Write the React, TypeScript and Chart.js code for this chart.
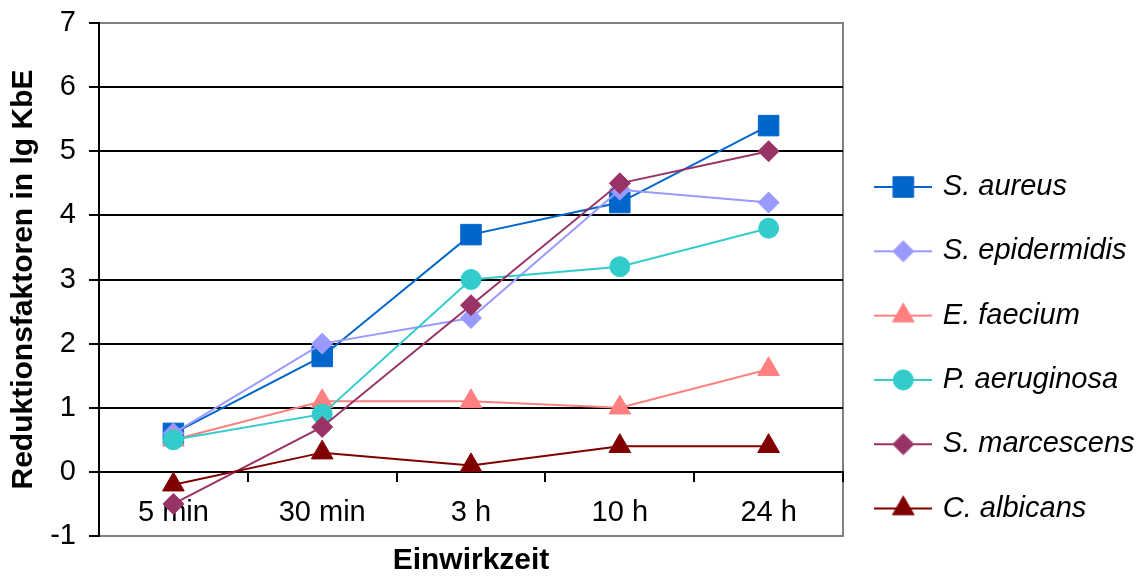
import React, { useEffect, useRef } from 'react';
import { Chart, registerables } from 'chart.js';

Chart.register(...registerables);

// Exposure times (x categories)
const timePoints = ['5 min', '30 min', '3 h', '10 h', '24 h'];

// Reduction factors (lg CFU) per organism
const sAureus = [0.6, 1.8, 3.7, 4.2, 5.4];
const sEpidermidis = [0.6, 2.0, 2.4, 4.4, 4.2];
const eFaecium = [0.5, 1.1, 1.1, 1.0, 1.6];
const pAeruginosa = [0.5, 0.9, 3.0, 3.2, 3.8];
const sMarcescens = [-0.5, 0.7, 2.6, 4.5, 5.0];
const cAlbicans = [-0.2, 0.3, 0.1, 0.4, 0.4];

const speciesNames = ['S. aureus', 'S. epidermidis', 'E. faecium', 'P. aeruginosa', 'S. marcescens', 'C. albicans'];
const speciesValues = [sAureus, sEpidermidis, eFaecium, pAeruginosa, sMarcescens, cAlbicans];

// Value axis range
const yMin = -1;
const yMax = 7;
const yStep = 1;

const yTitle = 'Reduktionsfaktoren in lg KbE';
const xTitle = 'Einwirkzeit';

// Series appearance
const seriesColors = ['#0066CC', '#9999FF', '#FF8080', '#33CCCC', '#993366', '#800000'];
const seriesMarkers = ['rect', 'rectRot', 'triangle', 'circle', 'rectRot', 'triangle'];
const markerRadius = [14.5, 10.5, 12.5, 10, 10.5, 12.5];

const FONT = "'Liberation Sans', Arial, Helvetica, sans-serif";
const FRAME_GREY = '#808080';
const PAD_LEFT = 5.6;
const Y_AXIS_WIDTH = 93.4;
const LEGEND_WIDTH = 300;

// Small line-plus-marker swatch used as the legend symbol
function makeSwatch(color: string, marker: string, r: number): HTMLCanvasElement {
  const c = document.createElement('canvas');
  c.width = 58;
  c.height = 30;
  const g = c.getContext('2d')!;
  const x = 29;
  const y = 15;
  g.strokeStyle = color;
  g.lineWidth = 2;
  g.beginPath();
  g.moveTo(0, y);
  g.lineTo(58, y);
  g.stroke();
  g.fillStyle = color;
  g.lineWidth = 1;
  g.beginPath();
  if (marker === 'rect') {
    const s = r * Math.SQRT1_2;
    g.rect(x - s, y - s, 2 * s, 2 * s);
  } else if (marker === 'rectRot') {
    g.moveTo(x - r, y);
    g.lineTo(x, y - r);
    g.lineTo(x + r, y);
    g.lineTo(x, y + r);
    g.closePath();
  } else if (marker === 'circle') {
    g.arc(x, y, r, 0, Math.PI * 2);
  } else {
    for (let k = 0; k < 3; k++) {
      const a = (k * 2 * Math.PI) / 3;
      const px = x + Math.sin(a) * r;
      const py = y - Math.cos(a) * r;
      if (k === 0) g.moveTo(px, py);
      else g.lineTo(px, py);
    }
    g.closePath();
  }
  g.fill();
  g.stroke();
  return c;
}

// Grey frame on the right side of the plot area
const plotFrame = {
  id: 'plotFrame',
  beforeDraw(chart: any) {
    const { ctx, chartArea } = chart;
    if (!chartArea) return;
    ctx.save();
    ctx.strokeStyle = FRAME_GREY;
    ctx.lineWidth = 2;
    ctx.beginPath();
    ctx.moveTo(chartArea.right, chartArea.top - 1);
    ctx.lineTo(chartArea.right, chartArea.bottom + 1);
    ctx.stroke();
    ctx.restore();
  },
};

export default function App() {
  const canvasRef = useRef<HTMLCanvasElement>(null);

  useEffect(() => {
    if (!canvasRef.current) return;
    Chart.defaults.font.family = FONT;

    const swatches = speciesNames.map((_, i) => makeSwatch(seriesColors[i], seriesMarkers[i], markerRadius[i]));

    const datasets = speciesNames.map((name, i) => ({
      label: name,
      data: speciesValues[i],
      borderColor: seriesColors[i],
      backgroundColor: seriesColors[i],
      borderWidth: 2,
      pointStyle: seriesMarkers[i],
      pointRadius: markerRadius[i],
      pointHoverRadius: markerRadius[i],
      pointBorderWidth: 1,
      pointBackgroundColor: seriesColors[i],
      pointBorderColor: seriesColors[i],
      tension: 0,
      fill: false,
      order: -i,
      clip: false as any,
    }));

    const chart = new Chart(canvasRef.current, {
      type: 'line',
      data: { labels: timePoints, datasets },
      plugins: [plotFrame],
      options: {
        responsive: false,
        animation: false,
        devicePixelRatio: 1,
        events: [],
        layout: { padding: { left: PAD_LEFT, right: 1147 - 843 - LEGEND_WIDTH, top: 23, bottom: 0 } },
        plugins: {
          tooltip: { enabled: false },
          legend: {
            position: 'right',
            align: 'center',
            maxWidth: LEGEND_WIDTH,
            title: { display: true, text: '', padding: { top: 61.7, bottom: 0 }, font: { size: 29 } },
            labels: {
              usePointStyle: true,
              pointStyleWidth: 50,
              padding: 35.3,
              color: '#000',
              font: { size: 29, style: 'italic', family: FONT },
              generateLabels: (c: any) =>
                c.data.datasets.map((ds: any, i: number) => ({
                  text: ds.label,
                  pointStyle: swatches[i],
                  fillStyle: seriesColors[i],
                  strokeStyle: seriesColors[i],
                  lineWidth: 0,
                  fontColor: '#000',
                  hidden: false,
                  datasetIndex: i,
                })),
            },
          },
          subtitle: {
            display: true,
            position: 'bottom',
            fullSize: false,
            text: xTitle,
            color: '#000',
            font: { size: 30, weight: 'bold', lineHeight: 1, family: FONT },
            padding: { top: 10, bottom: 0 },
          },
        },
        scales: {
          x: {
            type: 'category',
            position: { y: 0 } as any,
            offset: true,
            afterFit: (s: any) => {
              s.paddingLeft = 0;
              s.paddingRight = 0;
              s.paddingTop = 0;
              s.paddingBottom = 0;
            },
            grid: {
              offset: true,
              drawOnChartArea: false,
              drawTicks: true,
              tickLength: 9,
              color: '#000',
              lineWidth: 2,
            },
            border: { color: '#000', width: 2 },
            ticks: { color: '#000', font: { size: 29 }, padding: 15, maxRotation: 0, autoSkip: false },
          },
          y: {
            min: yMin,
            max: yMax,
            afterFit: (s: any) => {
              s.width = Y_AXIS_WIDTH;
              s.paddingTop = 0;
              s.paddingBottom = 0;
            },
            ticks: { stepSize: yStep, color: '#000', font: { size: 29 }, padding: 13 },
            grid: {
              color: (ctx: any) =>
                ctx.tick && (ctx.tick.value === yMax || ctx.tick.value === yMin) ? FRAME_GREY : '#000',
              tickColor: '#000',
              lineWidth: 2,
              tickLength: 10,
            },
            border: { color: '#000', width: 2 },
            title: {
              display: true,
              text: yTitle,
              color: '#000',
              font: { size: 30, weight: 'bold' },
              padding: { top: 0, bottom: 9.8 },
            },
          },
        },
      },
    } as any);

    return () => chart.destroy();
  }, []);

  return (
    <div style={{ position: 'absolute', left: 0, top: 0, width: 1147, height: 576, background: '#fff' }}>
      <canvas ref={canvasRef} width={1147} height={576} style={{ display: 'block', width: 1147, height: 576 }} />
    </div>
  );
}
